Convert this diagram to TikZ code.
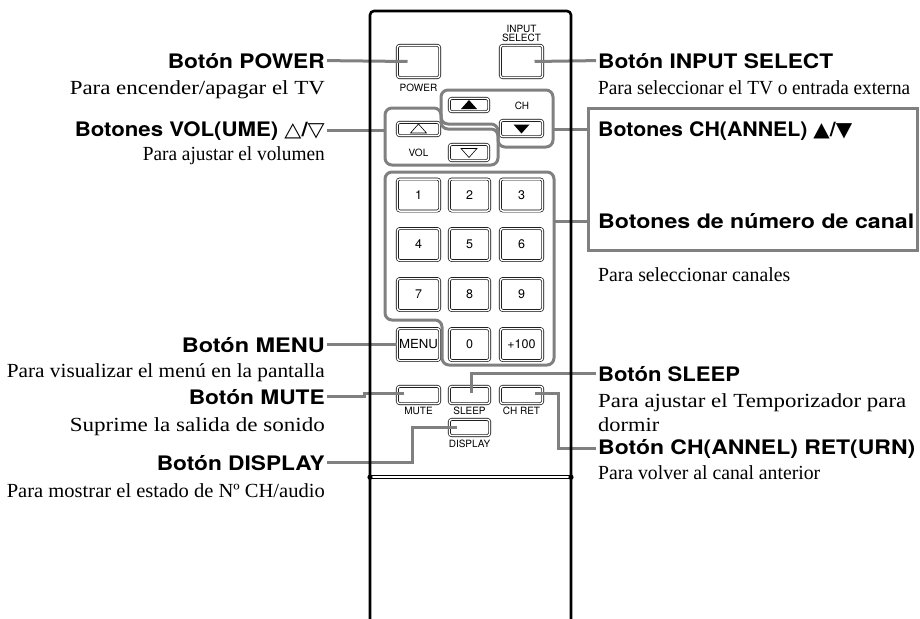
\documentclass[tikz,border=0pt]{standalone}
\usepackage{fontspec}
\setmainfont{Liberation Serif}
\newfontfamily\hv{TeX Gyre Heros}
\newfontfamily\dv{DejaVu Sans}
\usetikzlibrary{calc}
\definecolor{cgray}{RGB}{128,128,128}
\newsavebox\twbox
\newcommand\tw[2]{\sbox\twbox{#2}\pgfmathsetmacro\twsx{#1/\the\wd\twbox}\scalebox{\twsx}[1]{\usebox\twbox}}
\begin{document}
\begin{tikzpicture}[x=1pt,y=-1pt,
  btn/.style 2 args={draw, double, double distance=1.5pt, line width=0.65pt, rounded corners=2.5pt, inner sep=0pt, minimum width=#1pt, minimum height=#2pt},
  lbl/.style={font=\hv\fontsize{10}{8.5}\selectfont, inner sep=0pt, align=center},
  dig/.style={font=\hv\fontsize{12.5}{12}\selectfont},
  head/.style={font=\hv\bfseries\fontsize{20}{22}\selectfont, inner sep=2pt},
  desc/.style={font=\fontsize{20}{24}\selectfont, inner sep=2pt, align=left},
  conn/.style={draw=cgray, line width=3pt},
  grp/.style={draw=cgray, line width=3pt, rounded corners=7pt}]
\useasboundingbox (0,0) rectangle (920,618);

% buttons
\node[btn={42.3}{32.3}] (pow) at (418.5,61.5) {};
\node[lbl] (powl) at (418.5,87.5) {POWER};
\node[btn={42.3}{32.3}] (inp) at (521.5,61.5) {};
\node[lbl] (inpl) at (521.5,33.5) {INPUT\\SELECT};
\node[btn={39.3}{13.3}] (chup) at (469,105) {};
\fill (chup.center) ++(-8,4) -- ++(16,0) -- ++(-8,-9) -- cycle;
\node[lbl] (chl) at (522,106) {CH};
\node[btn={42.3}{16.3}] (chdn) at (521.5,128.5) {};
\fill (chdn.center) ++(-8,-4) -- ++(16,0) -- ++(-8,9) -- cycle;
\node[btn={42.3}{13.3}] (volup) at (418.5,129) {};
\draw[line width=0.6pt] (volup.center) ++(-8,4) -- ++(16,0) -- ++(-8,-9) -- cycle;
\node[lbl] (voll) at (418.5,152.5) {VOL};
\node[btn={39.3}{16.3}] (voldn) at (469,152.5) {};
\draw[line width=0.6pt] (voldn.center) ++(-8,-4) -- ++(16,0) -- ++(-8,9) -- cycle;

\node[btn={42.3}{32}, dig] (b1) at (418.5,195) {1};
\node[btn={40.3}{32}, dig] (b2) at (469.5,195) {2};
\node[btn={42.3}{32}, dig] (b3) at (521.5,195) {3};
\node[btn={42.3}{32}, dig] (b4) at (418.5,244.5) {4};
\node[btn={40.3}{32}, dig] (b5) at (469.5,244.5) {5};
\node[btn={42.3}{32}, dig] (b6) at (521.5,244.5) {6};
\node[btn={42.3}{32}, dig] (b7) at (418.5,294.5) {7};
\node[btn={40.3}{32}, dig] (b8) at (469.5,294.5) {8};
\node[btn={42.3}{32}, dig] (b9) at (521.5,294.5) {9};
\node[btn={42.3}{32}, dig] (menu) at (418.5,344.5) {\tw{39}{MENU}};
\node[btn={40.3}{32}, dig] (b0) at (469.5,344.5) {0};
\node[btn={42.3}{32}, dig] (b100) at (521.5,344.5) {+100};

\node[btn={42.3}{17.3}] (mute) at (418.5,395) {};
\node[lbl] (mutel) at (418.5,411) {MUTE};
\node[btn={40.3}{17.3}] (sleep) at (469.5,395) {};
\node[lbl] (sleepl) at (469.5,411) {SLEEP};
\node[btn={42.3}{17.3}] (chret) at (521.5,395) {};
\node[lbl] (chretl) at (521.5,411) {CH RET};
\node[btn={40.3}{16.3}] (disp) at (469.5,427.5) {};
\node[lbl] (displ) at (469.5,444) {DISPLAY};

% groups
\draw[grp] (441,124) -- (441,90) -- (553,90) -- (553,147) -- (498,147) -- (498,124) -- cycle;
\draw[grp] (385,108) -- (441,108) -- (441,129) -- (498,129) -- (498,165) -- (385,165) -- cycle;
\draw[grp] (385,320) -- (385,172) -- (554,172) -- (554,365) -- (442,365) -- (442,320) -- cycle;
\coordinate (volg) at (385,129);
\coordinate (chg) at (553,129);
\coordinate (numg) at (554,221);

% box
\node[draw=cgray, line width=3pt, minimum width=329pt, minimum height=142pt, inner sep=0pt] (chbox) at (752.5,179) {};

% left texts
\node[head, anchor=base east] (hPow) at (327,68) {\tw{157}{Botón POWER}};
\node[desc, anchor=base east] (dPow) at (327,94) {\tw{255}{Para encender/apagar el TV}};
\node[head, anchor=base east] (hVol) at (327,136) {\tw{250}{Botones VOL(UME) {\dv △}/{\dv ▽}}};
\node[desc, anchor=base east] (dVol) at (327,160) {\tw{182}{Para ajustar el volumen}};
\node[head, anchor=base east] (hMenu) at (327,352) {\tw{143}{Botón MENU}};
\node[desc, anchor=base east] (dMenu) at (327,377) {\tw{318}{Para visualizar el menú en la pantalla}};
\node[head, anchor=base east] (hMute) at (327,404) {\tw{136}{Botón MUTE}};
\node[desc, anchor=base east] (dMute) at (327,431) {\tw{255}{Suprime la salida de sonido}};
\node[head, anchor=base east] (hDisp) at (327,470) {\tw{168}{Botón DISPLAY}};
\node[desc, anchor=base east] (dDisp) at (327,497) {\tw{318}{Para mostrar el estado de Nº CH/audio}};

% right texts
\node[head, anchor=base west] (hInp) at (596,68) {\tw{235}{Botón INPUT SELECT}};
\node[desc, anchor=base west] (dInp) at (596,94) {\tw{312}{Para seleccionar el TV o entrada externa}};
\node[head, anchor=base west] (hCh) at (596,136) {\tw{254}{Botones CH(ANNEL) {\dv ▲}/{\dv ▼}}};
\node[head, anchor=base west] (hNum) at (596,228) {\tw{316}{Botones de número de canal}};
\node[desc, anchor=base west] (dNum) at (596,281) {\tw{192}{Para seleccionar canales}};
\node[head, anchor=base west] (hSleep) at (596,381) {\tw{142}{Botón SLEEP}};
\node[desc, anchor=base west] (dSleep) at (596,431) {\tw{308}{Para ajustar el Temporizador para}\\\tw{61}{dormir}};
\node[head, anchor=base west] (hChret) at (596,454) {\tw{317}{Botón CH(ANNEL) RET(URN)}};
\node[desc, anchor=base west] (dChret) at (596,479) {\tw{222}{Para volver al canal anterior}};

% connectors
\draw[conn] (hPow.east) -- ([xshift=-11pt]pow.center);
\draw[conn] ([xshift=13pt]inp.center) -- (hInp.west);
\draw[conn] (hVol.east) -- (volg |- hVol.east);
\draw[conn] (chg) -- (chbox.west |- chg);
\draw[conn] (numg) -- (chbox.west |- numg);
\draw[conn] (hMenu.east) -- (menu.west |- hMenu.east);
\draw[conn] (hMute.east) -| ($(mute.center)+(-54,-2)$) -- ($(mute.center)+(-15,-2)$);
\draw[conn] (hDisp.east) -| ($(disp.center)+(-57,0)$) -- ($(disp.center)+(-13,0)$);
\draw[conn] ($(sleep.center)+(2,-2)$) |- (hSleep.west);
\draw[conn] ($(chret.center)+(13.5,-2)$) -- ($(chret.center)+(36.5,-2)$) |- (hChret.west);

% remote body
\draw[line width=2.6pt, rounded corners=4pt] (370,630) -- (370,11) -- (571,11) -- (571,630);
\draw[line width=0.8pt] (370,475.5) -- (571,475.5);
\draw[line width=0.8pt] (370,478.8) -- (571,478.8);
\fill (370,477.2) circle (2.6);
\fill (571,477.2) circle (2.6);
\end{tikzpicture}
\end{document}
